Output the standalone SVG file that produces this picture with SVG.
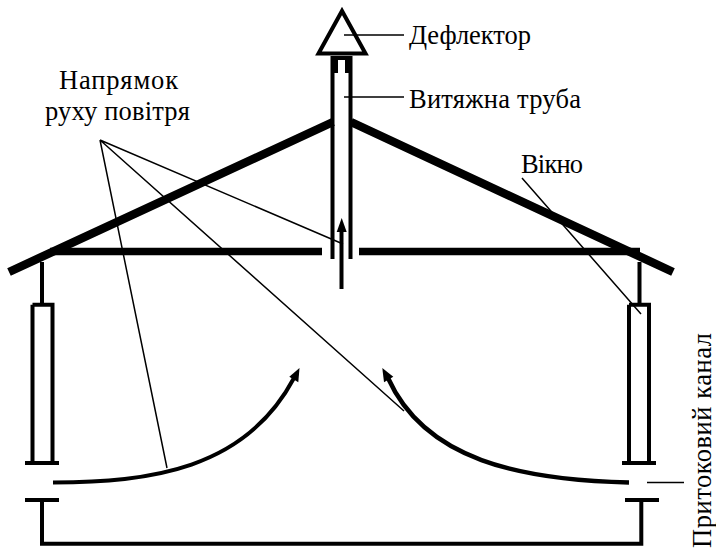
<svg xmlns="http://www.w3.org/2000/svg" width="716" height="551" viewBox="0 0 716 551">
<style>
.t{font-family:"Liberation Serif","Times New Roman",serif;font-size:26.500px;fill:#000}
.k{fill:none;stroke:#000;stroke-width:4}
.r{fill:none;stroke:#000;stroke-width:8.500}
.c{fill:none;stroke:#000;stroke-width:7.500}
.f{fill:none;stroke:#000;stroke-width:4.500}
.h{fill:none;stroke:#000;stroke-width:1.500}
.a{fill:#000;stroke:none}
</style>
<rect width="716" height="551" fill="#fff"/>
<g id="roof">
<path class="r" d="M9 272L333 122M351 122L673 272"/>
<path class="c" d="M50 251.500H322M359 251.500H640"/>
</g>
<g id="chimney">
<path class="k" d="M332.500 259V58H350.500V259M336 58V73M347 58V73"/>
<path class="k" d="M318.500 53.500H365.500L342 11Z"/>
</g>
<g id="window-left">
<path class="k" d="M42 262V305M32.500 304.700H52.500V463M32.500 304.700V463M25 463H59"/>
</g>
<g id="window-right">
<path class="k" d="M639.500 262V305M629 304.700H649V463M629 304.700V463M622 463H656"/>
</g>
<g id="inlet-channel">
<path class="k" d="M25 500H59M42 500V543.700H641.300V500M625 500H659"/>
</g>
<g id="connectors">
<path class="k" d="M341.500 289V230"/>
<path class="a" d="M341.700 218L346.700 232H336.700Z"/>
<path class="k" d="M53 482.500C150 482 245 470 294 378"/>
<path class="a" d="M299.500 368L298.300 382.300L289.300 376.700Z"/>
<path class="f" d="M629 482.500C520 480 425 460 388 378"/>
<path class="a" d="M382.300 368L393.300 376.700L384 382.300Z"/>
<path class="h" d="M100 140L343 244M100 140L404 411M100 140L167 468M522 178L641 314M344 35H404M344 97H404M647 482.500H684"/>
</g>
<g id="labels">
<text class="t" x="409" y="44" textLength="122">Дефлектор</text>
<text class="t" x="409" y="108" textLength="172">Витяжна труба</text>
<text class="t" x="521" y="173" textLength="62">Вікно</text>
<text class="t" x="59" y="89" textLength="119">Напрямок</text>
<text class="t" x="45" y="120" textLength="145">руху повітря</text>
<text class="t" transform="translate(711 548) rotate(-90)" textLength="215">Притоковий канал</text>
</g>
</svg>
